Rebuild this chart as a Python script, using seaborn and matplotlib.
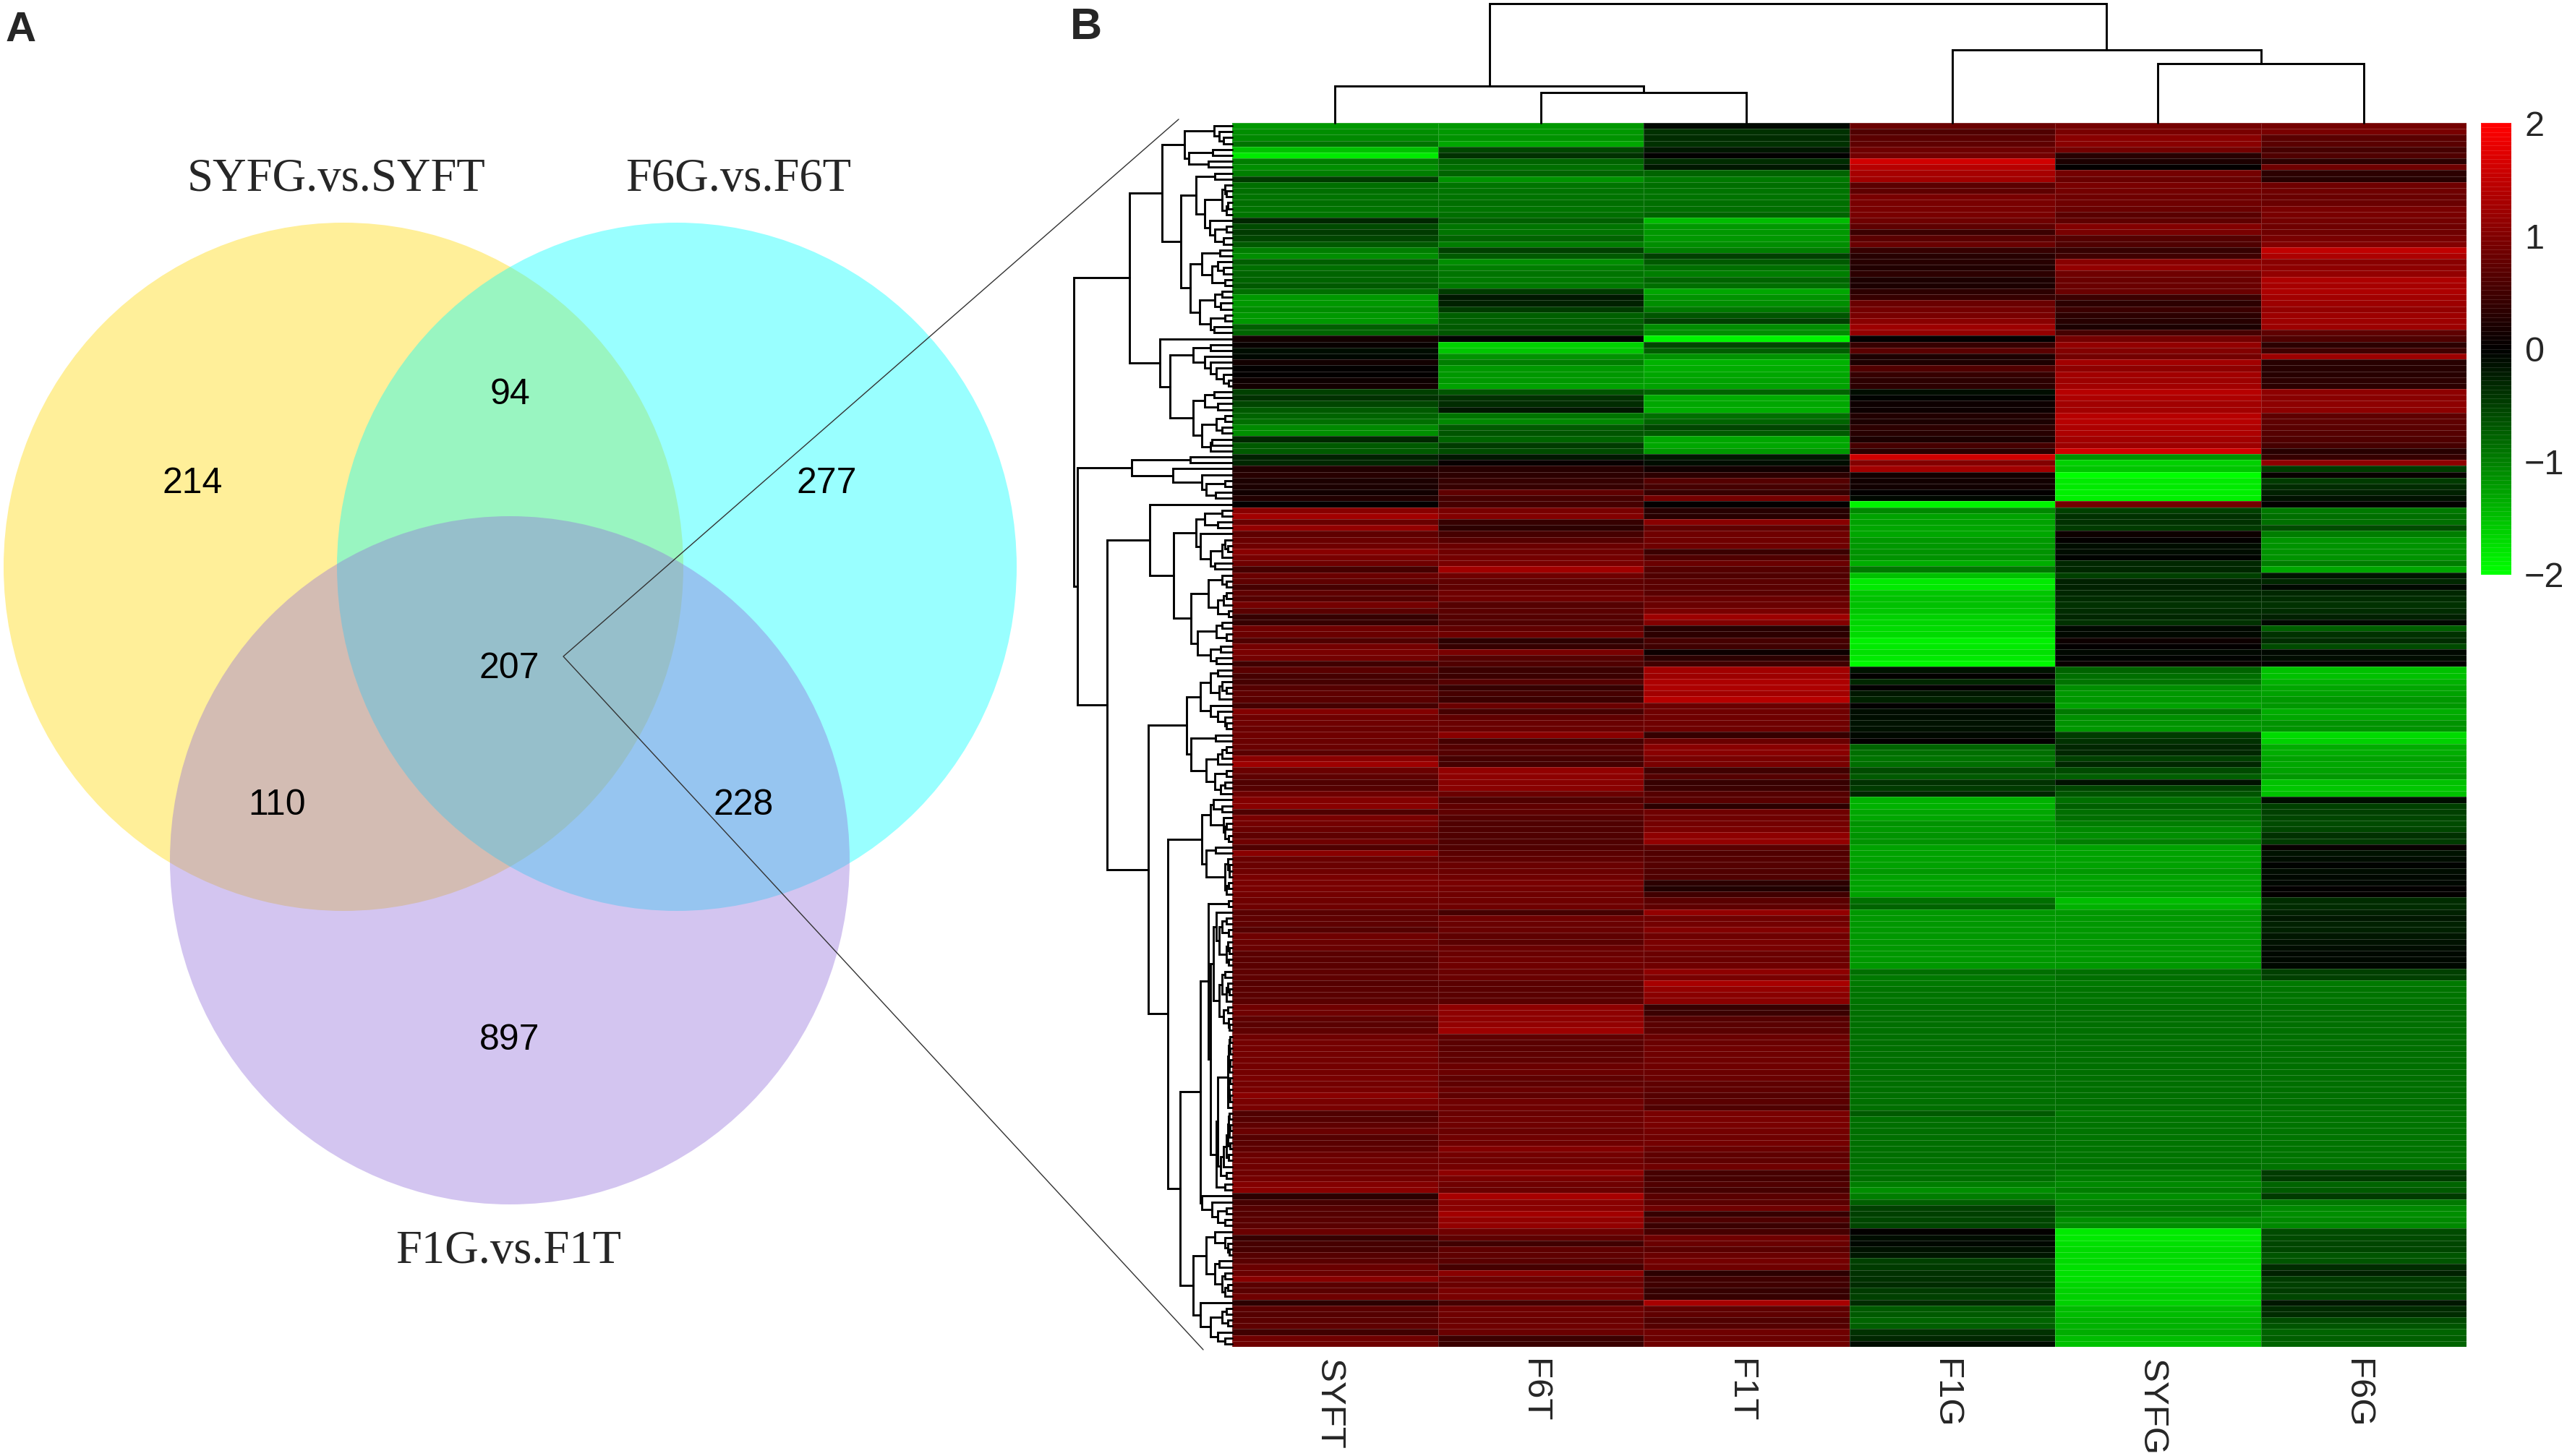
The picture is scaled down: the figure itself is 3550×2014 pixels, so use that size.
import matplotlib
matplotlib.use("Agg")
import matplotlib.pyplot as plt
from matplotlib.colors import LinearSegmentedColormap
from matplotlib.patches import Ellipse
from matplotlib.transforms import ScaledTranslation
import numpy as np
import pandas as pd
import seaborn as sns

# samples, in heatmap order
samples = ["SYFT", "F6T", "F1T", "F1G", "SYFG", "F6G"]

# z scores of the 207 shared genes, top row first
SYFT = [-1.2,-1.1,-1.05,-.9,-1.5,-1.8,-1.0,-1.1,-1.0,-.45,
        -.85,-.85,-.9,-.85,-.9,-.9,-.3,-.6,-.45,-.55,
        -.7,-1.0,-1.1,-.75,-.85,-.8,-.8,-.7,-.85,-1.2,
        -1.2,-1.1,-1.2,-1.2,-.75,-.8,.12,.06,-.12,-.05,
        .15,.03,.03,.1,.12,-.5,-.4,-.55,-.7,-.8,
        -.85,-1.05,-1.1,-.3,-.7,-.7,-.25,-.3,.25,.3,
        .2,.2,.15,.25,.02,1.05,1.25,.8,1.15,.75,
        .8,.85,1.05,.95,.85,.55,.8,.75,.55,.75,
        .65,.9,.7,.4,.4,.85,.8,.6,.9,.95,
        .9,.5,.7,.55,.55,.65,.75,.7,.55,1.0,
        .85,.85,.8,.85,.8,.8,.7,1.05,1.2,.8,
        .75,.6,.65,.85,1.0,1.05,.6,.95,.9,.8,
        .75,.85,.6,1.05,.8,.8,.85,.95,.95,.95,
        .9,.85,.85,.7,.75,.75,.65,.85,.8,.8,
        .7,.7,.7,.75,.75,.65,.7,.7,.7,.85,
        .85,.75,.7,.75,.85,.9,.9,.9,.9,.9,
        .9,.95,.9,.95,1.05,.95,.95,.6,.65,.75,
        .8,.65,.7,.75,.8,.85,.85,.85,.9,1.0,
        1.05,.35,.55,.65,.65,.7,.7,.8,.4,.55,
        .55,.65,.7,.8,.8,1.05,.7,.7,.85,.35,
        .7,.65,.7,.75,.5,.85,.85]
F6T = [-1.2,-1.2,-1.15,-1.3,-.55,-.4,-.8,-.85,-.8,-1.15,
       -.9,-.9,-.9,-.85,-.9,-.85,-.75,-.9,-.9,-.8,
       -1.0,-.5,-.7,-1.1,-1.0,-.9,-.95,-.95,-.45,-.2,
       -.25,-.45,-.75,-.75,-.7,-.65,-.02,-1.6,-1.55,-1.15,
       -1.0,-1.2,-1.2,-1.2,-1.25,-.65,-.4,-.35,-.2,-.9,
       -1.05,-.7,-.65,-.8,-.45,-.6,-.2,.05,.3,.35,
       .4,.4,.75,.55,.55,.95,1.0,.4,.35,.55,
       .65,.8,.85,.9,.95,1.25,.85,.75,.75,.85,
       .85,.65,.7,.65,.6,.75,.85,.35,.4,.95,
       .65,.6,.45,.45,.65,.4,.55,.45,.8,.55,
       .75,.8,.8,1.05,.55,.65,.65,.55,.55,1.15,
       1.1,1.05,1.05,.8,.6,.75,.75,.65,.6,.6,
       .6,.6,.6,.7,.75,.8,.8,.85,.95,.9,
       .85,.85,.85,.55,.85,.8,.8,.75,.7,.8,
       .8,.85,.85,.8,.8,.7,.7,.7,.7,1.1,
       1.1,1.1,1.15,1.2,.75,.7,.7,.75,.75,.8,
       .8,.75,.75,.8,.75,.85,.85,.8,.85,.85,
       .8,.85,.85,1.0,.9,.85,.9,1.1,.95,.85,
       .8,1.3,1.05,1.05,1.25,1.15,1.15,.85,.75,.5,
       .75,.75,.7,.55,1.05,.85,.8,.95,.95,.55,
       .85,.85,.8,.85,.8,.45,.45]
F1T = [-.05,-.4,-.35,-.4,-.2,0,-.35,-.2,-.8,-.95,
       -.85,-.9,-.9,-.85,-.85,-.8,-1.45,-1.2,-1.2,-1.2,
       -1.1,-1.0,-.5,-.7,-.85,-1.0,-.8,-.85,-1.3,-1.15,
       -1.1,-.95,-.65,-.5,-1.1,-1.1,-1.9,-.55,-.75,-1.15,
       -1.4,-1.35,-1.3,-1.25,-1.25,-.8,-1.35,-1.3,-1.35,-.85,
       -.8,-.55,-.7,-1.3,-1.3,-1.2,-.2,-.1,.15,.35,
       .65,.55,.4,.9,.02,.3,.3,1.05,.75,.85,
       .85,.85,.45,.6,.8,.65,.6,.7,.7,.7,
       .8,.8,.95,1.2,1.0,.3,.35,.55,.5,.1,
       .35,.5,1.25,1.2,1.35,1.35,1.25,1.4,.8,.85,
       .85,.85,.85,.4,.8,1.05,1.05,.95,.95,.5,
       .65,.4,.45,.65,.7,.35,.85,.85,.9,.95,
       1.1,1.15,.7,.6,.65,.65,.6,.6,.35,.25,
       .5,.7,.75,1.15,.85,.9,1.0,.85,.95,.95,
       .8,.8,.85,1.1,.95,1.3,1.15,1.05,1.05,.4,
       .45,.65,.7,.7,.8,.8,.85,.85,.85,.85,
       .8,.8,.75,.75,.65,.7,.6,.95,.95,.95,
       .9,.85,.9,.8,.75,.75,.85,.55,.55,.6,
       .55,.7,.7,.85,.4,.6,.45,.55,.85,.8,
       .7,.8,.9,.85,.35,.5,.5,.4,.4,1.3,
       .75,.75,.6,.65,.85,.8,.85]
F1G = [.8,.6,.7,.75,.85,.9,1.6,1.4,1.3,1.25,
       .7,.75,.95,.95,.95,.95,.85,.75,.45,.7,
       .8,.4,.3,.3,.25,.35,.2,.2,.35,.4,
       .8,.9,.95,1.05,1.2,1.15,0,.4,.7,.2,
       .2,.6,.4,.35,.35,-.1,-.02,.1,.1,.25,
       .2,.35,.3,.2,.55,.35,1.6,1.0,1.25,.15,
       .15,.15,.02,-.05,-1.9,-1.05,-1.25,-1.25,-1.3,-1.3,
       -1.2,-1.2,-1.15,-1.15,-1.35,-.95,-1.5,-1.8,-1.8,-1.55,
       -1.5,-1.5,-1.55,-1.6,-1.65,-1.7,-1.7,-1.85,-1.8,-1.75,
       -1.8,-1.95,-.15,.02,-.3,0,-.2,-.25,0,-.1,
       -.1,-.15,-.15,-.05,0,-.8,-.85,-.9,-.85,-.6,
       -.7,-.4,-.45,-.3,-1.4,-1.4,-1.3,-1.3,-1.15,-1.2,
       -1.15,-1.15,-1.25,-1.25,-1.25,-1.25,-1.2,-1.25,-1.25,-1.25,
       -1.25,-.85,-.8,-1.2,-1.2,-1.2,-1.2,-1.2,-1.2,-1.2,
       -1.2,-1.2,-1.2,-.85,-.95,-.95,-.9,-.9,-.9,-.85,
       -.85,-.85,-.85,-.85,-.85,-.85,-.85,-.85,-.85,-.85,
       -.85,-.85,-.85,-.85,-.85,-.85,-.85,-.7,-.85,-.85,
       -.85,-.85,-.85,-.85,-.85,-.85,-.9,-.85,-.85,-1.0,
       -1.1,-1.0,-.75,-.5,-.5,-.55,-.55,0,-.1,-.05,
       -.15,-.2,-.5,-.45,-.4,-.4,-.35,-.45,-.5,-.35,
       -.7,-.7,-.8,-.75,-.4,-.3,-.1]
SYFG = [.9,.95,1.05,1.05,.9,.3,.2,.02,.9,.8,
        .95,.9,.85,.85,.8,.7,.75,1.0,.95,.65,
        .6,.4,.5,1.05,1.15,.85,.8,.8,.8,.45,
        .35,.45,.35,.3,.2,.55,.9,1.15,1.0,.9,
        1.25,1.1,1.25,1.2,1.25,1.4,1.35,1.25,1.25,1.4,
        1.4,1.35,1.35,1.25,1.2,1.6,-1.15,-1.6,-1.55,-2.0,
        -1.8,-1.8,-1.85,-1.85,.9,-.5,-.4,-.4,-.45,.1,
        .03,-.1,-.1,-.02,-.3,-.3,-.5,-.25,-.25,-.3,
        -.35,-.4,-.35,-.3,-.4,-.05,-.05,.08,.02,-.05,
        -.02,.05,-.8,-.85,-.9,-1.1,-1.2,-1.2,-1.25,-.95,
        -1.1,-1.15,-1.2,-.45,-.4,-.3,-.3,-.5,-.3,-.6,
        -.75,-.15,-.55,-.65,-.85,-.75,-.85,-.85,-1.0,-1.05,
        -1.1,-1.0,-1.25,-1.25,-1.25,-1.25,-1.2,-1.25,-1.25,-1.25,
        -1.25,-1.45,-1.4,-1.2,-1.2,-1.2,-1.2,-1.2,-1.2,-1.2,
        -1.2,-1.2,-1.2,-.85,-.85,-.95,-.9,-.9,-.9,-.85,
        -.85,-.85,-.85,-.85,-.85,-.85,-.85,-.85,-.85,-.85,
        -.85,-.85,-.85,-.85,-.85,-.85,-.85,-.95,-.9,-.9,
        -.9,-.9,-.9,-.9,-.9,-.9,-.85,-1.0,-1.0,-1.05,
        -1.0,-1.1,-1.0,-.95,-.95,-1.1,-1.1,-1.8,-1.8,-1.75,
        -1.7,-1.7,-1.7,-1.75,-1.75,-1.75,-1.65,-1.6,-1.6,-1.6,
        -1.45,-1.45,-1.4,-1.4,-1.35,-1.45,-1.5]
F6G = [.9,.95,.7,.7,.55,.6,.35,.85,.35,.3,
       .85,.85,.8,.8,.95,.95,.9,.85,.85,.95,
       1.0,1.5,1.35,1.05,1.1,1.15,1.35,1.3,1.35,1.25,
       1.2,1.15,1.2,1.2,1.2,.75,.6,.35,.5,1.2,
       .3,.3,.3,.35,.35,1.1,1.05,1.1,1.1,.75,
       .75,.7,.65,.6,.55,.3,.4,1.1,-.45,.05,
       -.45,-.35,-.25,-.15,.03,-.95,-.85,-.85,-.6,-1.0,
       -1.15,-1.15,-1.15,-1.15,-1.0,-1.3,-.2,-.3,-.05,-.3,
       -.35,-.4,-.35,-.25,-.05,-.75,-.4,-.35,-.6,-.05,
       -.1,0,-1.5,-1.5,-1.4,-1.3,-1.25,-1.2,-1.2,-1.35,
       -1.3,-1.15,-1.15,-1.7,-1.6,-1.35,-1.35,-1.25,-1.3,-1.25,
       -1.2,-1.5,-1.55,-1.5,-.1,-.5,-.5,-.55,-.6,-.55,
       -.4,-.45,.05,-.15,-.1,-.02,-.1,-.05,-.05,.02,
       0,-.35,-.35,-.25,-.2,-.25,-.25,-.2,-.15,-.12,
       -.05,-.05,-.05,-.5,-.5,-.95,-.9,-.9,-.9,-.85,
       -.85,-.85,-.85,-.85,-.85,-.85,-.85,-.85,-.85,-.85,
       -.85,-.85,-.85,-.85,-.85,-.85,-.85,-.9,-.9,-.9,
       -.9,-.9,-.9,-.9,-.9,-.9,-.9,-.45,-.45,-.8,
       -.7,-.45,-.95,-1.05,-1.1,-1.05,-1.05,-.6,-.6,-.55,
       -.55,-.65,-.65,-.35,-.25,-.45,-.5,-.45,-.55,-.2,
       -.35,-.35,-.6,-.65,-.8,-.75,-.8]

# height where neighbouring leaves join in the dendrograms
row_joins = [25,18,12,66,27,60,33,97,24,50,
             10,8,14,6,8,38,31,8,24,12,
             71,17,42,20,12,28,10,58,14,24,
             16,45,10,30,25,142,100,30,54,38,
             30,22,12,5,86,25,38,20,54,10,
             22,14,42,28,30,219,58,139,82,42,
             10,36,23,214,114,14,38,20,50,44,
             10,6,14,30,24,81,14,8,33,8,
             12,20,5,57,14,22,8,48,16,30,
             22,173,20,30,14,8,18,44,30,20,
             10,8,63,23,57,8,14,20,36,8,
             24,10,16,116,26,14,30,12,8,10,
             5,42,23,36,6,4,4,10,5,8,
             89,5,33,22,8,14,5,18,6,4,
             8,5,26,10,14,6,4,8,18,6,
             12,5,4,30,3,4,3,5,3,4,
             6,3,5,4,3,6,20,4,5,3,
             4,6,3,8,5,12,16,8,22,10,
             44,42,28,8,20,10,72,24,10,6,
             4,36,18,24,10,14,6,10,54,44,
             8,14,6,30,20,10]
col_joins = [51, 42, 165, 101, 82]

# venn counts and set names
venn_sets = ["SYFG.vs.SYFT", "F6G.vs.F6T", "F1G.vs.F1T"]
venn_counts = [214, 277, 94, 207, 110, 228, 897]
venn_colors = ["gold", "cyan", "mediumpurple"]

W, H = 3550, 2014
sns.set_style("white")
plt.rcParams["font.family"] = ["Liberation Sans", "DejaVu Sans"]

fig = plt.figure(figsize=(W / 100, H / 100), dpi=100)


def px_axes(left, top, right, bottom):
    return fig.add_axes([left / W, 1 - bottom / H, (right - left) / W, (bottom - top) / H])


# whole page axes for panel A and the zoom lines
page = fig.add_axes([0, 0, 1, 1], zorder=5)
page.set_xlim(0, W)
page.set_ylim(H, 0)
page.axis("off")
page.patch.set_alpha(0)

venn_centers = [(475, 784), (936, 784), (705, 1190)]
for (cx, cy), col in zip(venn_centers, venn_colors):
    page.add_patch(Ellipse((cx, cy), 940, 952, facecolor=col, edgecolor="none", alpha=0.4))

count_pos = [(266, 669), (1143, 669), (705, 546), (704, 925), (383, 1114), (1028, 1114), (705, 1439)]
for (x, y), n in zip(count_pos, venn_counts):
    page.text(x, y, str(n), fontsize=36, ha="center", va="center", color="black")

name_pos = [(465, 248), (1021, 248), (703, 1731)]
for (x, y), name in zip(name_pos, venn_sets):
    page.text(x, y, name, fontsize=46.5, ha="center", va="center", family="Liberation Serif")

page.text(8, 42, "A", fontsize=42, fontweight="bold", va="center")
page.text(1480, 39, "B", fontsize=44, fontweight="bold", va="center")

# lines from the centre of the venn to the heatmap corners
page.plot([1630, 779, 1664], [165, 908, 1867], color="#333333", lw=1.0)

# heatmap
heat_df = pd.DataFrame(np.array([SYFT, F6T, F1T, F1G, SYFG, F6G]).T, columns=samples)
rg = LinearSegmentedColormap.from_list("rg", ["#00FF00", "#000000", "#FF0000"], N=100)

ax = px_axes(1704, 170, 3411, 1863)
cax = px_axes(3431, 170, 3473, 795)
sns.heatmap(heat_df, cmap=rg, vmin=-2, vmax=2, ax=ax, cbar_ax=cax,
            linewidths=0.4, linecolor=(1, 1, 1, 0.2), yticklabels=False,
            cbar_kws={"ticks": [-2, -1, 0, 1, 2]})
ax.set_xticklabels(samples, rotation=270, fontsize=35.5, ha="center", va="top")
ax.tick_params(axis="x", length=0, pad=12)
# labels sit a little left of the column centres in the original
for lab in ax.get_xticklabels():
    lab.set_transform(lab.get_transform() + ScaledTranslation(-0.09, 0, fig.dpi_scale_trans))

cbar = ax.collections[0].colorbar
cbar.outline.set_visible(False)
cbar.solids.set_edgecolor((1, 1, 1, 0.12))
cbar.solids.set_linewidth(0.4)
cax.set_yticklabels(["\u22122", "\u22121", "0", "1", "2"], fontsize=35, ha="left")
cax.tick_params(axis="y", length=0, pad=13)


# draw a dendrogram from the join heights, biggest join splits first
def draw_tree(axis, joins, lo, hi, sideways):
    if lo == hi:
        return lo + 0.5, 0
    split = lo + int(np.argmax(joins[lo:hi]))
    p1, d1 = draw_tree(axis, joins, lo, split, sideways)
    p2, d2 = draw_tree(axis, joins, split + 1, hi, sideways)
    h = joins[split]
    if sideways:
        axis.plot([d1, h, h, d2], [p1, p1, p2, p2], color="black", lw=2.1, solid_joinstyle="miter", clip_on=False)
    else:
        axis.plot([p1, p1, p2, p2], [d1, h, h, d2], color="black", lw=2.1, solid_joinstyle="miter", clip_on=False)
    return (p1 + p2) / 2, h


row_ax = px_axes(1480, 170, 1704, 1863)
row_ax.set_xlim(224, 0)
row_ax.set_ylim(len(SYFT), 0)
row_ax.axis("off")
draw_tree(row_ax, row_joins, 0, len(SYFT) - 1, True)

col_ax = px_axes(1704, 0, 3411, 170)
col_ax.set_xlim(0, len(samples))
col_ax.set_ylim(0, 170)
col_ax.axis("off")
draw_tree(col_ax, col_joins, 0, len(samples) - 1, False)

fig.savefig("out.png", dpi=100)
